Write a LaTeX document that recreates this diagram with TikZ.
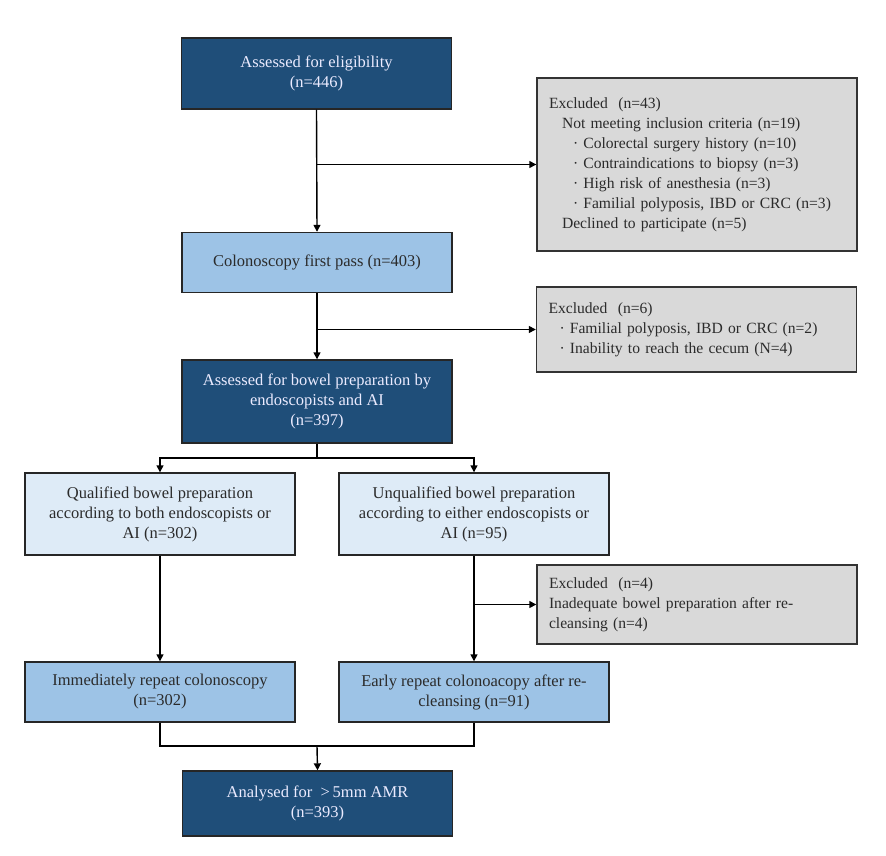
\documentclass[tikz,border=0pt]{standalone}
\usepackage{fontspec}
\setmainfont{Liberation Serif}
\usetikzlibrary{arrows.meta}
\definecolor{dkblue}{HTML}{1F4E79}
\definecolor{mdblue}{HTML}{9DC3E6}
\definecolor{ltblue}{HTML}{DEEBF7}
\definecolor{exgray}{HTML}{D9D9D9}
\definecolor{txt}{HTML}{2B2B2B}
\tikzset{
  box/.style={draw=black!85, line width=1.4pt, minimum width=270pt, align=center, inner sep=0pt, font=\fontsize{16.5}{20}\selectfont},
  dark/.style={box, fill=dkblue, text=white!92!blue},
  mid/.style={box, fill=mdblue, text=txt},
  light/.style={box, fill=ltblue, text=txt},
  exbox/.style={draw=black!80, line width=1.4pt, fill=exgray, text=txt, minimum width=320pt, text width=300pt, align=left, inner xsep=10pt, inner ysep=0pt, font=\fontsize{15.6}{20}\selectfont},
  conn/.style={line width=1.4pt, black},
  arr/.style={conn, -{Triangle[length=7pt,width=7pt]}}
}
\begin{document}
\begin{tikzpicture}[x=1pt,y=-1pt]
\useasboundingbox (0,0) rectangle (886,856);
\node[dark, minimum height=71pt] (b1) at (316.5,73.5) {Assessed for eligibility\\(n=446)};
\node[exbox, minimum height=173pt] (ex1) at (697,164.5) {\hspace*{2pt}Excluded\ \ (n=43)\\
\hspace*{15pt}Not meeting inclusion criteria (n=19)\\
\hspace*{26pt}· Colorectal surgery history (n=10)\\
\hspace*{26pt}· Contraindications to biopsy (n=3)\\
\hspace*{26pt}· High risk of anesthesia (n=3)\\
\hspace*{26pt}· Familial polyposis, IBD or CRC (n=3)\\
\hspace*{15pt}Declined to participate (n=5)};
\node[mid, minimum height=60pt] (b2) at (317,262.5) {Colonoscopy first pass (n=403)};
\node[exbox, minimum height=85pt] (ex2) at (696.5,329.5) {\hspace*{2pt}Excluded\ \ (n=6)\\
\hspace*{13pt}· Familial polyposis, IBD or CRC (n=2)\\
\hspace*{13pt}· Inability to reach the cecum (N=4)};
\node[dark, minimum height=83pt] (b3) at (317,401.5) {Assessed for bowel preparation by\\endoscopists and AI\\(n=397)};
\node[light, minimum height=82pt] (q) at (160,514) {Qualified bowel preparation\\according to both endoscopists or\\AI (n=302)};
\node[light, minimum height=82pt] (u) at (474,514) {Unqualified bowel preparation\\according to either endoscopists or\\AI (n=95)};
\node[exbox, minimum height=79pt] (ex3) at (697,604.5) {\hspace*{2pt}Excluded\ \ (n=4)\\
\hspace*{2pt}Inadequate bowel preparation after re-\\\hspace*{2pt}cleansing (n=4)};
\node[mid, minimum height=60pt] (im) at (160,692) {Immediately repeat colonoscopy\\(n=302)};
\node[mid, minimum height=60pt] (er) at (474,692) {Early repeat colonoacopy after re-\\cleansing (n=91)};
\node[dark, minimum height=65pt] (fin) at (317.5,803.5) {Analysed for \ \textgreater\,5mm AMR\\(n=393)};
% connectors
\coordinate (j1) at (b1.south |- ex1.west);
\coordinate (j2) at (b2.south |- ex2.west);
\coordinate (j3) at (u.south |- ex3.west);
\coordinate (s) at (317,458);
\coordinate (m) at (317,746);
\draw[arr] (b1.south) -- (b2.north);
\draw[arr] (j1) -- (ex1.west);
\draw[arr] (b2.south) -- (b3.north);
\draw[arr] (j2) -- (ex2.west);
\draw[conn] (b3.south) -- (s);
\draw[arr] (s) -| (q.north);
\draw[arr] (s) -| (u.north);
\draw[arr] (q.south) -- (im.north);
\draw[arr] (u.south) -- (er.north);
\draw[arr] (j3) -- (ex3.west);
\draw[conn] (im.south) |- (m);
\draw[conn] (er.south) |- (m);
\draw[arr] (m) -- (fin.north);
\end{tikzpicture}
\end{document}
